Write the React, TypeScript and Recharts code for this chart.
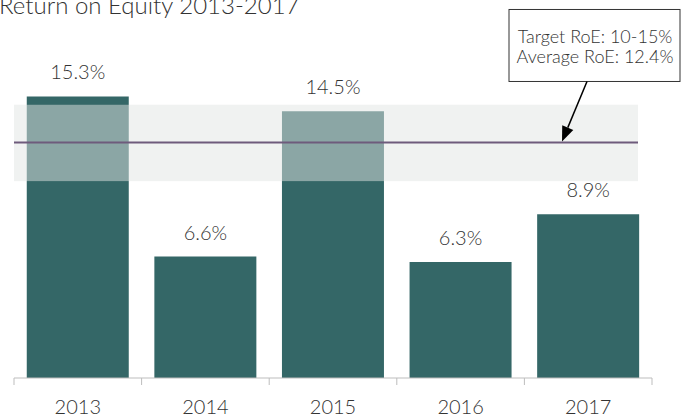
import React from "react";
import { BarChart, Bar, XAxis, YAxis, ReferenceArea, ReferenceLine, LabelList } from "recharts";

const years = ["2013", "2014", "2015", "2016", "2017"];
const roe = [15.3, 6.6, 14.5, 6.3, 8.9];
// band and average line as placed in the picture
const targetBand = [10.7, 14.85];
const averageRoe = 12.8;
const noteLines = ["Target RoE: 10-15%", "Average RoE: 12.4%"];
const yDomain = [0, 20];

const data = years.map((year, i) => ({ year, roe: roe[i] }));

const FONT = "Lato, 'Open Sans', sans-serif";
const TEXT = "#333";
const AXIS = "#bdbdbd";
const RIGHT_TRIM = 14;

const YearTick = (props: any) => {
    const { x, y, payload, index, visibleTicksCount, width } = props;
    const half = payload?.offset || width / visibleTicksCount / 2;
    const left = x - half;
    return (
        <g>
            <line x1={left} x2={left} y1={y} y2={y + 7} stroke={AXIS} />
            {index === visibleTicksCount - 1 && (
                <line x1={x + half} x2={x + half} y1={y} y2={y + 7} stroke={AXIS} />
            )}
            <text x={x} y={y + 36} textAnchor="middle" fill={TEXT} fontSize={20} fontFamily={FONT} fontWeight={300}>
                {payload.value}
            </text>
        </g>
    );
};

const bandShape = (p: any) => (
    <rect x={p.x} y={p.y} width={p.width - RIGHT_TRIM} height={p.height} fill={p.fill} fillOpacity={p.fillOpacity} />
);

const lineShape = (p: any) => (
    <line x1={p.x1} y1={p.y1} x2={Math.max(p.x1, p.x2) - RIGHT_TRIM} y2={p.y2} stroke={p.stroke} strokeWidth={p.strokeWidth} />
);

const Note = (props: any) => {
    const vb = props.viewBox || {};
    if (vb.x == null) return null;
    const tipX = vb.x + vb.width - 90;
    const tipY = vb.y - 1;
    const boxTop = vb.y - 133;
    const boxBottom = vb.y - 61;
    const startX = tipX + 25;
    const dx = tipX - startX;
    const dy = tipY - boxBottom;
    const len = Math.sqrt(dx * dx + dy * dy);
    const ux = dx / len;
    const uy = dy / len;
    const baseX = tipX - ux * 15;
    const baseY = tipY - uy * 15;
    const head = `${tipX},${tipY} ${baseX - uy * 6},${baseY + ux * 6} ${baseX + uy * 6},${baseY - ux * 6}`;
    return (
        <g>
            <rect x={tipX - 53} y={boxTop} width={171} height={boxBottom - boxTop} fill="#fff" stroke="#333" strokeWidth={1} />
            {noteLines.map((t, i) => (
                <text key={t} x={tipX + 33} y={vb.y - 99.6 + i * 20.6} textAnchor="middle" fill={TEXT} fontSize={18} fontFamily={FONT} fontWeight={300}>
                    {t}
                </text>
            ))}
            <line x1={startX} y1={boxBottom} x2={baseX} y2={baseY} stroke="#000" strokeWidth={1.5} />
            <polygon points={head} fill="#000" />
        </g>
    );
};

export default function App() {
    return (
        <div style={{ position: "absolute", left: 0, top: 0, width: 687, height: 417, background: "#fff", overflow: "hidden" }}>
            <svg width={687} height={417} style={{ position: "absolute", left: 0, top: 0 }}>
                <text x={-1} y={14} fill={TEXT} fontSize={24} fontFamily={FONT} fontWeight={300}>
                    Return on Equity 2013-2017
                </text>
            </svg>
            <div style={{ position: "absolute", left: 0, top: 0 }}>
                <BarChart width={687} height={417} data={data} margin={{ top: 10, right: 35, left: 14, bottom: 0 }} barCategoryGap="10%">
                    <XAxis
                        dataKey="year"
                        height={39}
                        stroke={AXIS}
                        tickSize={0}
                        tickMargin={0}
                        tickLine={false}
                        tick={<YearTick />}
                        interval={0}
                    />
                    <YAxis hide domain={yDomain} />
                    <Bar dataKey="roe" fill="#346767" isAnimationActive={false}>
                        <LabelList
                            dataKey="roe"
                            position="top"
                            offset={17}
                            fill={TEXT}
                            fontSize={20}
                            fontFamily={FONT}
                            fontWeight={300}
                            formatter={(v: any) => `${Number(v).toFixed(1)}%`}
                        />
                    </Bar>
                    <ReferenceArea
                        y1={targetBand[0]}
                        y2={targetBand[1]}
                        fill="rgb(225,229,228)"
                        fillOpacity={0.5}
                        stroke="none"
                        shape={bandShape}
                        zIndex={350}
                    />
                    <ReferenceLine
                        y={averageRoe}
                        stroke="#6e5b7c"
                        strokeWidth={2}
                        shape={lineShape}
                        label={<Note />}
                        zIndex={360}
                    />
                </BarChart>
            </div>
        </div>
    );
}
